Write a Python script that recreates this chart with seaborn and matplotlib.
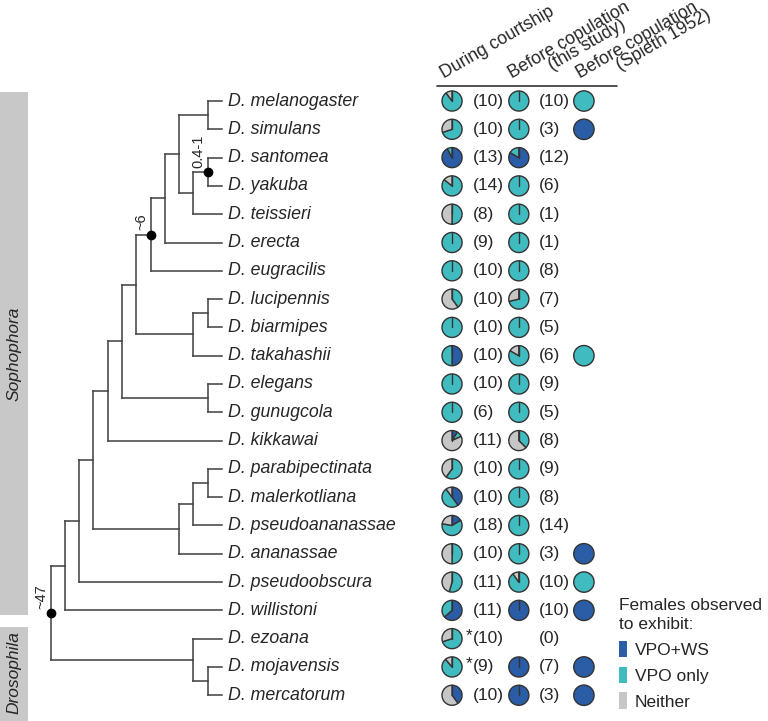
import pandas as pd
import seaborn as sns
import matplotlib.pyplot as plt
from matplotlib.patches import Patch, Rectangle

# species, top to bottom
species = ["D. melanogaster", "D. simulans", "D. santomea", "D. yakuba", "D. teissieri",
           "D. erecta", "D. eugracilis", "D. lucipennis", "D. biarmipes", "D. takahashii",
           "D. elegans", "D. gunugcola", "D. kikkawai", "D. parabipectinata",
           "D. malerkotliana", "D. pseudoananassae", "D. ananassae", "D. pseudoobscura",
           "D. willistoni", "D. ezoana", "D. mojavensis", "D. mercatorum"]

# tree topology (indices into species), drawn as a cladogram
melanogaster_grp = ((((0, 1), ((2, 3), 4)), 5), 6)
suzukii_grp = ((7, 8), 9)
ananassae_grp = (((13, 14), 15), 16)
drosophila_grp = (19, (20, 21))
clade = ((melanogaster_grp, suzukii_grp), (10, 11))
clade = ((clade, 12), ananassae_grp)
clade = ((clade, 17), 18)
tree = (clade, drosophila_grp)

# dated nodes (Mya), given by two tips whose common ancestor is marked
node_dates = {"0.4-1": (2, 3), "~6": (0, 6), "~47": (0, 21)}

# clades shown as grey side bars
clades = ["Sophophora", "Drosophila"]

# females observed: VPO+WS / VPO only / Neither
court_ws = [0, 0, 12, 0, 0, 0, 0, 0, 0, 5, 0, 0, 1, 0, 4, 3, 0, 0, 7, 0, 0, 4]
court_vpo = [9, 7, 1, 12, 4, 9, 10, 4, 10, 5, 10, 6, 1, 6, 5, 11, 5, 6, 4, 7, 8, 0]
court_none = [1, 3, 0, 2, 4, 0, 0, 6, 0, 0, 0, 0, 9, 4, 1, 4, 5, 5, 0, 3, 1, 6]
court_star = [19, 20]

precop_ws = [0, 0, 10, 0, 0, 0, 0, 0, 0, 0, 0, 0, 0, 0, 0, 0, 0, 0, 10, 0, 7, 3]
precop_vpo = [10, 3, 2, 6, 1, 1, 8, 5, 5, 5, 9, 5, 3, 9, 8, 14, 3, 9, 0, 0, 0, 0]
precop_none = [0, 0, 0, 0, 0, 0, 0, 2, 0, 1, 0, 0, 5, 0, 0, 0, 0, 1, 0, 0, 0, 0]

spieth = ["VPO only", "VPO+WS", None, None, None, None, None, None, None, "VPO only",
          None, None, None, None, None, None, "VPO+WS", "VPO only", "VPO+WS", None,
          "VPO+WS", "VPO+WS"]

headers = [["During courtship"],
           ["Before copulation", "(this study)"],
           ["Before copulation", "(Spieth 1952)"]]
categories = ["VPO+WS", "VPO only", "Neither"]

# style
BLUE, TEAL, GREY = "#2b5ca6", "#40bcc0", "#c6c6c6"
EDGE = "#333333"
TREE = "#454545"
BAR = "#c8c8c8"
FS = 12.5

sns.set_style("white")
plt.rcParams["font.family"] = ["Liberation Sans", "DejaVu Sans"]

# layout, in row units (1 row = 28.3 px)
LEVEL = 0.505
NAME_DX = 0.2
COL_X = [8.13, 10.49, 12.79]
HEAD_X = [7.84, 10.25, 12.65]
HEAD_Y = -0.78
LINE2_OFF = (1.42, -0.31)
PIE_R = 0.355
LABEL_DX = 0.72

fig = plt.figure(figsize=(7.68, 7.21), dpi=100)
ax = fig.add_axes([0, 0, 1, 1])

# ---- tree
node_pos = {}


def draw(node):
    if isinstance(node, int):
        return float(node), 0, {node}
    kids = [draw(c) for c in node]
    h = max(k[1] for k in kids) + 1
    x = -h * LEVEL
    y = (kids[0][0] + kids[-1][0]) / 2
    ax.plot([x, x], [kids[0][0], kids[-1][0]], color=TREE, lw=1.15,
            solid_capstyle="projecting")
    for ky, kh, _ in kids:
        ax.plot([x, -kh * LEVEL], [ky, ky], color=TREE, lw=1.15,
                solid_capstyle="projecting")
    tips = set().union(*(k[2] for k in kids))
    node_pos[frozenset(tips)] = (x, y)
    return y, h, tips


draw(tree)

for label, (a, b) in node_dates.items():
    best = min((t for t in node_pos if a in t and b in t), key=len)
    x, y = node_pos[best]
    ax.plot(x, y, "o", color="black", ms=6, zorder=5)
    ax.text(x - 0.33, y - 0.15, label, rotation=90, ha="center", va="bottom",
            fontsize=10.5)

for i, name in enumerate(species):
    ax.text(NAME_DX, i, name, style="italic", va="center", ha="left", fontsize=12.8)

# ---- clade bars
bar_spans = [(-0.32, 18.16), (18.59, 22.2)]
for name, (y0, y1) in zip(clades, bar_spans):
    ax.add_patch(Rectangle((-7.9, y0), 1.04, y1 - y0, color=BAR, lw=0))
    yc = (y0 + min(y1, 21.8)) / 2
    ax.text(-7.36, yc, name, rotation=90, style="italic", ha="center",
            va="center", fontsize=FS)

# ---- pies
colors = [BLUE, TEAL, GREY]
for col, cols in enumerate([(court_ws, court_vpo, court_none),
                            (precop_ws, precop_vpo, precop_none)]):
    for i in range(len(species)):
        vals = [c[i] for c in cols]
        total = sum(vals)
        cx = COL_X[col]
        if total > 0:
            keep = [(v, c) for v, c in zip(vals, colors) if v > 0]
            ax.pie([v for v, _ in keep], colors=[c for _, c in keep],
                   center=(cx, i), radius=PIE_R, startangle=270,
                   counterclock=True, frame=True,
                   wedgeprops=dict(edgecolor=EDGE, linewidth=1.0))
            ax.plot([cx, cx], [i, i - PIE_R], color=EDGE, lw=1.0)
        ax.text(cx + LABEL_DX, i, f"({total})", va="center", ha="left", fontsize=FS)
        if col == 0 and i in court_star:
            ax.text(cx + LABEL_DX, i - 0.1, "*", va="center", ha="right",
                    fontsize=FS)

spieth_df = pd.DataFrame({"row": range(len(species)), "obs": spieth}).dropna()
spieth_df["x"] = COL_X[2]
sns.scatterplot(data=spieth_df, x="x", y="row", hue="obs",
                palette={"VPO+WS": BLUE, "VPO only": TEAL}, s=215,
                edgecolor=EDGE, linewidth=1.0, legend=False, ax=ax, zorder=3)

# ---- headers, rotated 30 deg; second line sits just under the first
for hx, lines in zip(HEAD_X, headers):
    for k, line in enumerate(lines):
        ax.text(hx + LINE2_OFF[0] * k, HEAD_Y + LINE2_OFF[1] * k, line,
                rotation=30, rotation_mode="anchor", ha="left", va="baseline",
                fontsize=12.7)
ax.plot([7.6, 13.96], [-0.53, -0.53], color=EDGE, lw=1.2)

# ---- legend
handles = [Patch(facecolor=c, edgecolor="none", label=l)
           for c, l in zip(colors, categories)]
leg = fig.legend(handles=handles, title="Females observed\nto exhibit:",
                 loc="upper left", bbox_to_anchor=(0.806, 0.171), frameon=False,
                 fontsize=FS, title_fontsize=FS, alignment="left",
                 handlelength=0.45, handleheight=1.1, handletextpad=0.45,
                 labelspacing=0.5, borderpad=0, borderaxespad=0)
leg.get_title().set_linespacing(1.35)

# ---- limits (row units, equal aspect)
y_top, y_bot = -3.57, 21.91
x_left = -7.845
x_right = x_left + (y_bot - y_top) * 768 / 721
ax.set_xlim(x_left, x_right)
ax.set_ylim(y_bot, y_top)
ax.set_aspect("equal")
ax.axis("off")

fig.savefig("out.png", dpi=100)
